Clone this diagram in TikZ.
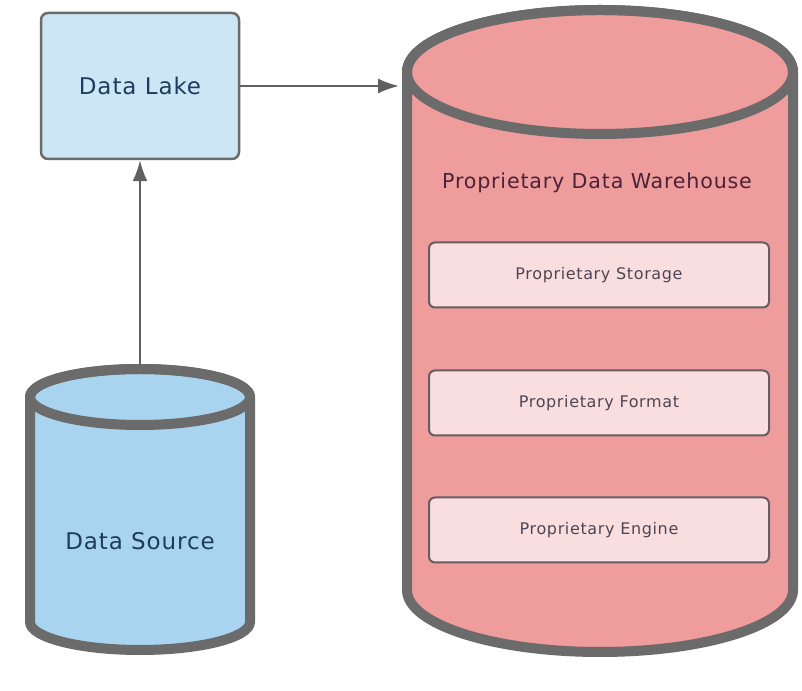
\documentclass[tikz,border=0pt]{standalone}
\usepackage{fontspec}
\setmainfont{DejaVu Sans}
\newfontfamily\lblfont[LetterSpace=4]{DejaVu Sans}
\usetikzlibrary{arrows.meta}
\definecolor{edge}{HTML}{6B6B6B}
\definecolor{lakeblue}{HTML}{CDE6F5}
\definecolor{srcblue}{HTML}{A9D4EF}
\definecolor{dwred}{HTML}{EF9C9C}
\definecolor{partpink}{HTML}{F9DEE0}
\definecolor{navy}{HTML}{1F3B5E}
\definecolor{plum}{HTML}{4B2338}
\definecolor{partink}{HTML}{4F4654}

\begin{document}
\begin{tikzpicture}[
        x=1pt, y=1pt,
        cyl/.style={draw=edge, line width=10pt, line join=round},
        lake/.style={draw=edge, fill=lakeblue, line width=2.5pt, rounded corners=7pt,
            minimum width=198pt, minimum height=146pt, font=\lblfont\fontsize{23}{26}\selectfont, text=navy},
        part/.style={draw=edge!80!plum, fill=partpink, line width=2pt, rounded corners=6pt,
            minimum width=340pt, minimum height=65pt, font=\lblfont\fontsize{16}{19}\selectfont, text=partink},
        link/.style={draw=edge!90!black, line width=2pt, -{Latex[length=21pt, width=15pt]}}
    ]
 \useasboundingbox (0,0) rectangle (802,690);
 \filldraw[cyl, fill=srcblue] (30,293) -- (30,68)
     arc[start angle=180, end angle=360, x radius=110, y radius=28] -- (250,293)
     arc[start angle=0, end angle=180, x radius=110, y radius=28] -- cycle;
 \draw[cyl] (140,293) ellipse[x radius=110, y radius=28];
 \filldraw[cyl, fill=dwred] (407,618) -- (407,100)
     arc[start angle=180, end angle=360, x radius=193, y radius=62] -- (793,618)
     arc[start angle=0, end angle=180, x radius=193, y radius=62] -- cycle;
 \draw[cyl] (600,618) ellipse[x radius=193, y radius=62];
 \coordinate (srctop) at (140,326);
 \coordinate (dwin) at (399,604);
 \node[lake] (lake) at (140,604) {Data Lake};
 \node[font=\lblfont\fontsize{23}{26}\selectfont, text=navy] (src) at (140,149) {Data Source};
 \node[font=\lblfont\fontsize{20.6}{24}\selectfont, text=plum] (dw) at (597,507) {Proprietary Data Warehouse};
 \node[part] (store) at (599,415) {Proprietary Storage};
 \node[part] (format) at (599,287) {Proprietary Format};
 \node[part] (engine) at (599,160) {Proprietary Engine};
 \draw[link] (srctop) -- (lake.south);
 \draw[link] (lake.east) -- (dwin);
\end{tikzpicture}
\end{document}
